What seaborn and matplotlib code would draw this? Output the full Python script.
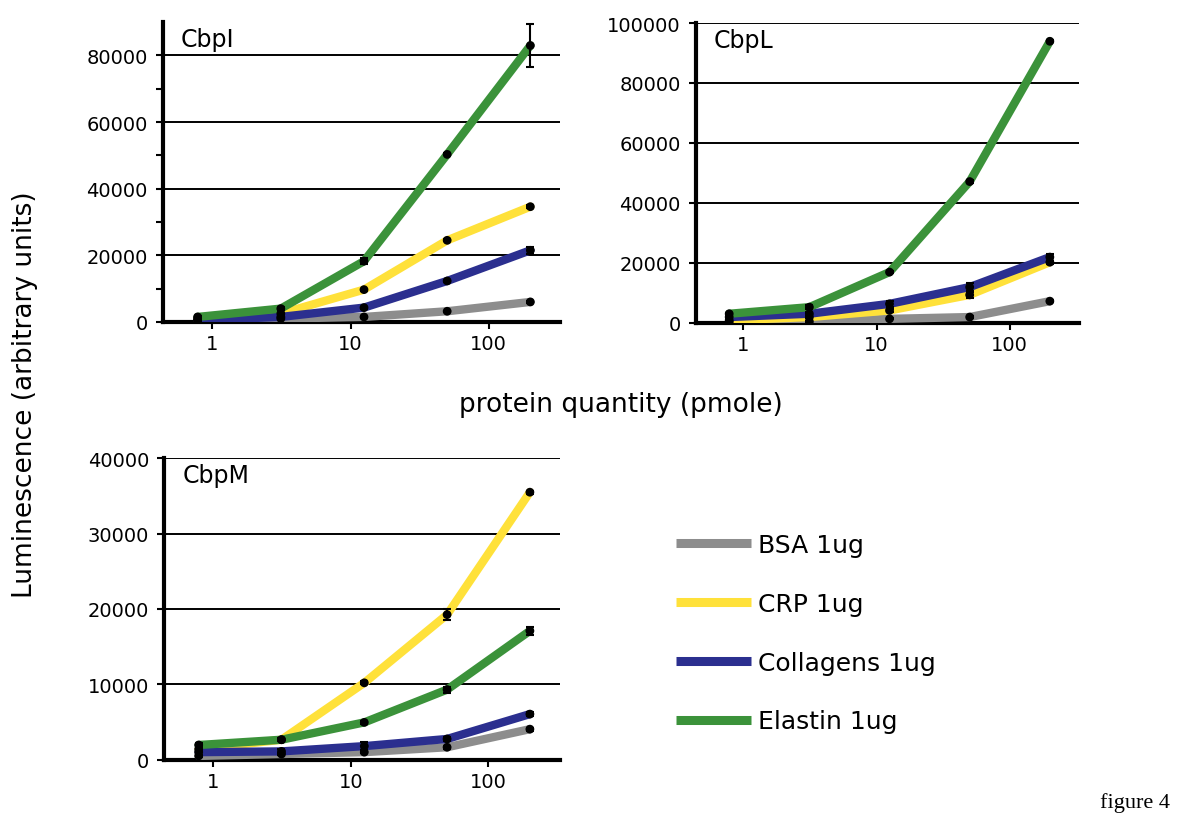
import numpy as np
import pandas as pd
import matplotlib
matplotlib.use("Agg")
import matplotlib.pyplot as plt
import seaborn as sns
from matplotlib.ticker import FixedLocator, NullLocator, FuncFormatter, MultipleLocator
from matplotlib.lines import Line2D

# protein quantity (pmole), 4-fold dilutions
pmole = [0.78125, 3.125, 12.5, 50, 200]
series = ["BSA 1ug", "CRP 1ug", "Collagens 1ug", "Elastin 1ug"]
colors = ["#8d8d8d", "#ffe13a", "#2b2f8f", "#3b923a"]

# CbpI
cbpi_bsa = [300, 1000, 1500, 3200, 6000]
cbpi_crp = [1000, 2500, 9700, 24500, 34600]
cbpi_col = [500, 1500, 4300, 12300, 21500]
cbpi_ela = [1500, 4000, 18250, 50300, 83000]
cbpi_err = [[100, 200, 200, 200, 200],
            [100, 200, 300, 300, 400],
            [100, 200, 300, 300, 1000],
            [200, 500, 1000, 300, 6500]]

# CbpL
cbpl_bsa = [200, 400, 1300, 1900, 7200]
cbpl_crp = [800, 1900, 4100, 9300, 20200]
cbpl_col = [1900, 3000, 6300, 11900, 21900]
cbpl_ela = [3000, 5200, 16900, 47100, 93900]
cbpl_err = [[100, 100, 200, 200, 300],
            [200, 300, 500, 1000, 500],
            [400, 700, 1000, 1200, 1200],
            [400, 700, 300, 400, 300]]

# CbpM
cbpm_bsa = [500, 750, 1000, 1650, 4050]
cbpm_crp = [1400, 2650, 10200, 19250, 35500]
cbpm_col = [1000, 1100, 1800, 2750, 6050]
cbpm_ela = [1950, 2650, 4950, 9300, 17100]
cbpm_err = [[100, 100, 100, 200, 200],
            [200, 200, 200, 700, 200],
            [500, 300, 500, 300, 300],
            [200, 200, 200, 400, 500]]


def make_df(vals, errs):
    rows = []
    for name, v, e in zip(series, vals, errs):
        for x, y, s in zip(pmole, v, e):
            rows.append({"pmole": x, "value": y, "err": s, "series": name})
    return pd.DataFrame(rows)


panels = [
    ("CbpI", make_df([cbpi_bsa, cbpi_crp, cbpi_col, cbpi_ela], cbpi_err),
     [0.136, 0.610, 0.331, 0.362], 90000, 20000, True),
    ("CbpL", make_df([cbpl_bsa, cbpl_crp, cbpl_col, cbpl_ela], cbpl_err),
     [0.580, 0.609, 0.319, 0.362], 100000, 20000, False),
    ("CbpM", make_df([cbpm_bsa, cbpm_crp, cbpm_col, cbpm_ela], cbpm_err),
     [0.137, 0.0813, 0.3295, 0.364], 40000, 10000, False),
]

sns.set_theme(style="white")
plt.rcParams["font.family"] = ["DejaVu Sans"]
plt.rcParams["text.color"] = "black"
plt.rcParams["axes.edgecolor"] = "black"

fig = plt.figure(figsize=(12, 8.28), dpi=100)

for title, df, rect, ymax, ystep, minor in panels:
    ax = fig.add_axes(rect)
    ax.set_xscale("log")
    for y in np.arange(ystep, ymax + 1, ystep):
        ax.axhline(y, color="black", lw=1.4, zorder=1)
    sns.lineplot(data=df, x="pmole", y="value", hue="series", hue_order=series,
                 palette=colors, lw=6, estimator=None, legend=False, ax=ax, zorder=3)
    ax.errorbar(df["pmole"], df["value"], yerr=df["err"], fmt="none",
                ecolor="black", elinewidth=1.5, capsize=3, capthick=1.5, zorder=4)
    sns.scatterplot(data=df, x="pmole", y="value", color="black", s=40,
                    edgecolor="none", ax=ax, zorder=5)
    ax.set_xlim(0.44, 330)
    ax.set_ylim(0, ymax)
    ax.set_xlabel("")
    ax.set_ylabel("")
    ax.xaxis.set_major_locator(FixedLocator([1, 10, 100]))
    ax.xaxis.set_minor_locator(NullLocator())
    ax.xaxis.set_major_formatter(FuncFormatter(lambda v, p: f"{v:g}"))
    ax.yaxis.set_major_locator(MultipleLocator(ystep))
    if minor:
        ax.yaxis.set_minor_locator(FixedLocator(np.arange(ystep / 2, ymax - 1, ystep)))
    else:
        ax.yaxis.set_minor_locator(NullLocator())
    ax.yaxis.set_major_formatter(FuncFormatter(lambda v, p: f"{int(v)}"))
    ax.tick_params(axis="both", which="both", direction="out", color="black",
                   labelsize=14, labelcolor="black")
    ax.tick_params(axis="y", which="major", length=5, width=1.5, pad=6, left=True)
    ax.tick_params(axis="y", which="minor", length=5, width=1.5, left=True)
    ax.tick_params(axis="x", which="major", length=5, width=1.5, pad=4, bottom=True)
    for side in ["top", "right"]:
        ax.spines[side].set_visible(False)
    for side in ["left", "bottom"]:
        ax.spines[side].set_color("black")
        ax.spines[side].set_linewidth(3.0)
    ax.text(0.045, 0.985, title, transform=ax.transAxes, ha="left", va="top",
            fontsize=17, color="black")

fig.text(0.021, 0.523, "Luminescence (arbitrary units)", rotation=90,
         ha="center", va="center", fontsize=19, color="black")
fig.text(0.517, 0.511, "protein quantity (pmole)", ha="center", va="center",
         fontsize=19, color="black")

handles = [Line2D([0], [0], color=c, lw=6.5, solid_capstyle="butt", label=s)
           for c, s in zip(colors, series)]
leg = fig.legend(handles=handles, loc="upper left", bbox_to_anchor=(0.563, 0.355),
                 frameon=False, fontsize=18, handlelength=3.0, handletextpad=0.3,
                 labelspacing=1.39, borderpad=0, borderaxespad=0)
for t in leg.get_texts():
    t.set_color("black")

fig.text(0.946, 0.030, "figure 4", ha="center", va="center", fontsize=16,
         family=["Liberation Serif", "DejaVu Serif"], color="black")

fig.savefig("out.png", dpi=100, facecolor="white")
